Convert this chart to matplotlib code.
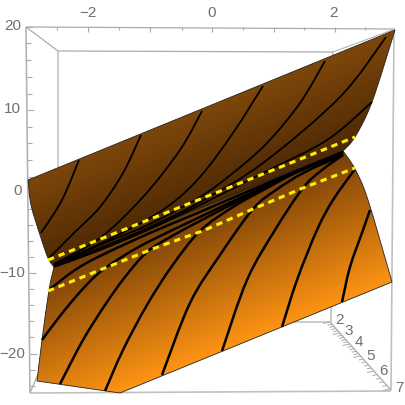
import numpy as np
import matplotlib
matplotlib.use("Agg")
import matplotlib.pyplot as plt
from matplotlib.colors import LinearSegmentedColormap
from matplotlib.path import Path
from matplotlib.patches import PathPatch

plt.rcParams['font.family'] = ['Liberation Sans', 'DejaVu Sans']

# everything, in picture pixels
upper_top = [(28, 180), (395, 30)]
upper_right = [(395, 30), (372, 102), (355, 137), (343, 151)]
fold = [(343, 151), (200, 208), (100, 250), (54, 267)]
upper_left = [(54, 267), (48, 258), (40, 235), (31, 205), (28, 180)]
lower_right = [(343, 151), (355, 169), (368, 200), (392, 282)]
lower_bottom = [(392, 282), (120, 393)]
lower_corner = [(120, 393), (37, 381)]
lower_left = [(37, 381), (42, 340), (49, 290), (54, 267)]

upper_contours = [
    [(79, 160), (62, 200), (41, 233)],
    [(141, 135), (123, 173), (100, 207), (75, 232), (49, 258)],
    [(202, 111), (180, 150), (143, 197), (100, 238), (54, 264)],
    [(263, 86), (233, 133), (200, 177), (167, 207), (120, 234), (54, 265)],
    [(325, 61), (300, 103), (267, 143), (233, 173), (200, 197), (150, 224), (100, 245), (54, 266)],
    [(386, 37), (340, 97), (263, 163), (200, 202), (150, 227), (100, 248), (54, 266)],
    [(372, 102), (327, 140), (263, 173), (200, 205), (150, 229), (100, 250), (54, 267)],
]
lower_contours = [
    [(50, 289), (75, 270), (100, 256), (150, 233), (200, 212), (270, 182), (343, 152)],
    [(42, 340), (60, 316), (80, 292), (100, 272), (125, 255), (150, 241), (200, 217), (270, 184), (343, 152)],
    [(60, 384), (83, 340), (105, 305), (125, 277), (147, 252), (172, 236), (200, 221), (240, 200), (290, 175), (343, 153)],
    [(105, 391), (123, 350), (147, 305), (172, 266), (200, 231), (233, 207), (267, 188), (305, 168), (343, 154)],
    [(162, 375), (190, 303), (220, 255), (253, 209), (276, 190), (305, 172), (343, 155)],
    [(222, 351), (247, 280), (275, 230), (303, 188), (322, 170), (343, 155)],
    [(282, 327), (297, 280), (317, 230), (333, 200), (355, 169)],
    [(342, 302), (350, 267), (363, 230), (370, 210)],
]
yellow_upper = [(48, 260), (103, 238), (303, 158), (355, 137)]
yellow_lower = [(48, 291), (100, 270), (155, 248), (205, 230), (253, 209), (303, 188), (355, 168)]

top_tick_x = [57, 88, 119, 150, 182, 212, 243, 274, 304, 335, 365]
left_tick_y = [27, 43, 60, 77, 94, 110, 127, 143, 160, 177, 193, 209, 225, 241, 257, 273,
               289, 305, 321, 337, 354, 370, 386]
top_labels = ['\u22122', '0', '2']
top_label_x = [88, 212, 334]
left_labels = ['20', '10', '0', '\u221210', '\u221220']
left_label_y = [26, 109, 191, 273, 354]
left_label_right = [21, 21, 22, 25, 25]
depth_labels = ['2', '3', '4', '5', '6', '7']
depth_label_xy = [(339, 320), (349, 331), (359, 342), (371, 356), (384, 371), (399, 388)]
depth_major_y = [322, 333, 344, 356, 371, 389]

upper_colors = ['#7c460a', '#4c2804']
lower_colors = ['#763f06', '#ff9414']

frame = '#ababab'
text_col = '#707070'


def curve_verts(points):
    # catmull-rom through the points, as cubic bezier controls
    pts = np.array(points, float)
    out = []
    for i in range(len(pts) - 1):
        p0 = pts[max(i - 1, 0)]
        p1, p2 = pts[i], pts[i + 1]
        p3 = pts[min(i + 2, len(pts) - 1)]
        out += [p1 + (p2 - p0) / 6, p2 - (p3 - p1) / 6, p2]
    return out


def curve(points):
    verts = [np.array(points[0], float)] + curve_verts(points)
    codes = [Path.MOVETO] + [Path.CURVE4] * (len(verts) - 1)
    return Path(verts, codes)


def outline(parts):
    verts = [np.array(parts[0][0], float)]
    for part in parts:
        verts += curve_verts(part)
    codes = [Path.MOVETO] + [Path.CURVE4] * (len(verts) - 1)
    return Path(verts, codes)


fig = plt.figure(figsize=(4.05, 4.05), dpi=100)
ax = fig.add_axes([0, 0, 1, 1])
ax.set_xlim(0, 405)
ax.set_ylim(405, 0)
ax.axis('off')


def line(p, q, lw=0.9, color=frame, z=1):
    ax.plot([p[0], q[0]], [p[1], q[1]], color=color, lw=lw, zorder=z, solid_capstyle='butt')


# back of the box
line((58, 51), (333, 52))
line((58, 51), (58, 175), lw=1.2, color='#c4c4c4')
line((333, 52), (331, 322), lw=0.9)
line((58, 322), (330, 322), lw=1.2, color='#c4c4c4')
line((26, 27), (58, 51))
line((395, 29), (333, 52), lw=0.7)
line((30, 393), (60, 322))

# front of the box, sits behind the surface too
line((26, 27), (395, 29))
line((26, 27), (30, 393), lw=1.2, color='#b4b4b4')
line((30, 393), (391, 391), lw=1.2, color='#c0c0c0')
line((394, 29), (391, 390), lw=1.2, color='#c0c0c0')
line((330, 322), (391, 390))

for i, x in enumerate(top_tick_x):
    line((x, 27), (x, 32 if i % 2 else 30), lw=0.8)
for i, y in enumerate(left_tick_y):
    x0 = 26 + (y - 27) * 4 / 366
    line((x0, y), (x0 + (7 if i % 5 == 0 else 5), y), lw=0.8)

# depth ticks, five to a unit
depth_vals = np.arange(2, 7.01, 0.2)
tick_y = np.interp(depth_vals, np.arange(2, 8), depth_major_y)
for v, y in zip(depth_vals, tick_y):
    x = 330 + (y - 322) * 61 / 68
    major = abs(v - round(v)) < 1e-6
    line((x, y), (x - (7 if major else 4.5), y + (1.5 if major else 1)), lw=0.7)

for txt, x in zip(top_labels, top_label_x):
    ax.text(x, 13, txt, ha='center', va='center', fontsize=11, color=text_col)
for txt, y, r in zip(left_labels, left_label_y, left_label_right):
    ax.text(r, y, txt, ha='right', va='center', fontsize=11, color=text_col)
for txt, (x, y) in zip(depth_labels, depth_label_xy):
    ax.text(x, y, txt, ha='center', va='center', fontsize=11, color=text_col)

# shaded sheets: colour runs across the fold direction
xx, yy = np.meshgrid(np.arange(0, 405), np.arange(0, 405))
nx, ny = 116 / 311, 289 / 311
depth = nx * xx + ny * yy


def sheet(parts, colors, d0, d1):
    cmap = LinearSegmentedColormap.from_list('sheet', colors)
    im = ax.imshow((depth - d0) / (d1 - d0), extent=(0, 405, 405, 0), cmap=cmap, vmin=0, vmax=1,
                   aspect='auto', zorder=2, interpolation='bilinear')
    patch = PathPatch(outline(parts), fc='none', ec='#222222', lw=0.6, zorder=3)
    ax.add_patch(patch)
    im.set_clip_path(patch)


fold_d = nx * 54 + ny * 267
sheet([fold[::-1], lower_right, lower_bottom, lower_corner, lower_left],
      lower_colors, fold_d, nx * 222 + ny * 351)
sheet([upper_top, upper_right, fold, upper_left], upper_colors, nx * 28 + ny * 180, fold_d)

for c in upper_contours:
    ax.add_patch(PathPatch(curve(c), fc='none', ec='black', lw=1.3, zorder=4, capstyle='butt'))
for c in lower_contours:
    ax.add_patch(PathPatch(curve(c), fc='none', ec='black', lw=1.8, zorder=4, capstyle='butt'))

for y_line in (yellow_upper, yellow_lower):
    ax.plot(*zip(*y_line), color='#ffee00', lw=2.2, zorder=5, dashes=(2.1, 1.6), dash_capstyle='butt')

ax.set_xlim(0, 405)
ax.set_ylim(405, 0)
fig.savefig('out.png', dpi=100, facecolor='white')
